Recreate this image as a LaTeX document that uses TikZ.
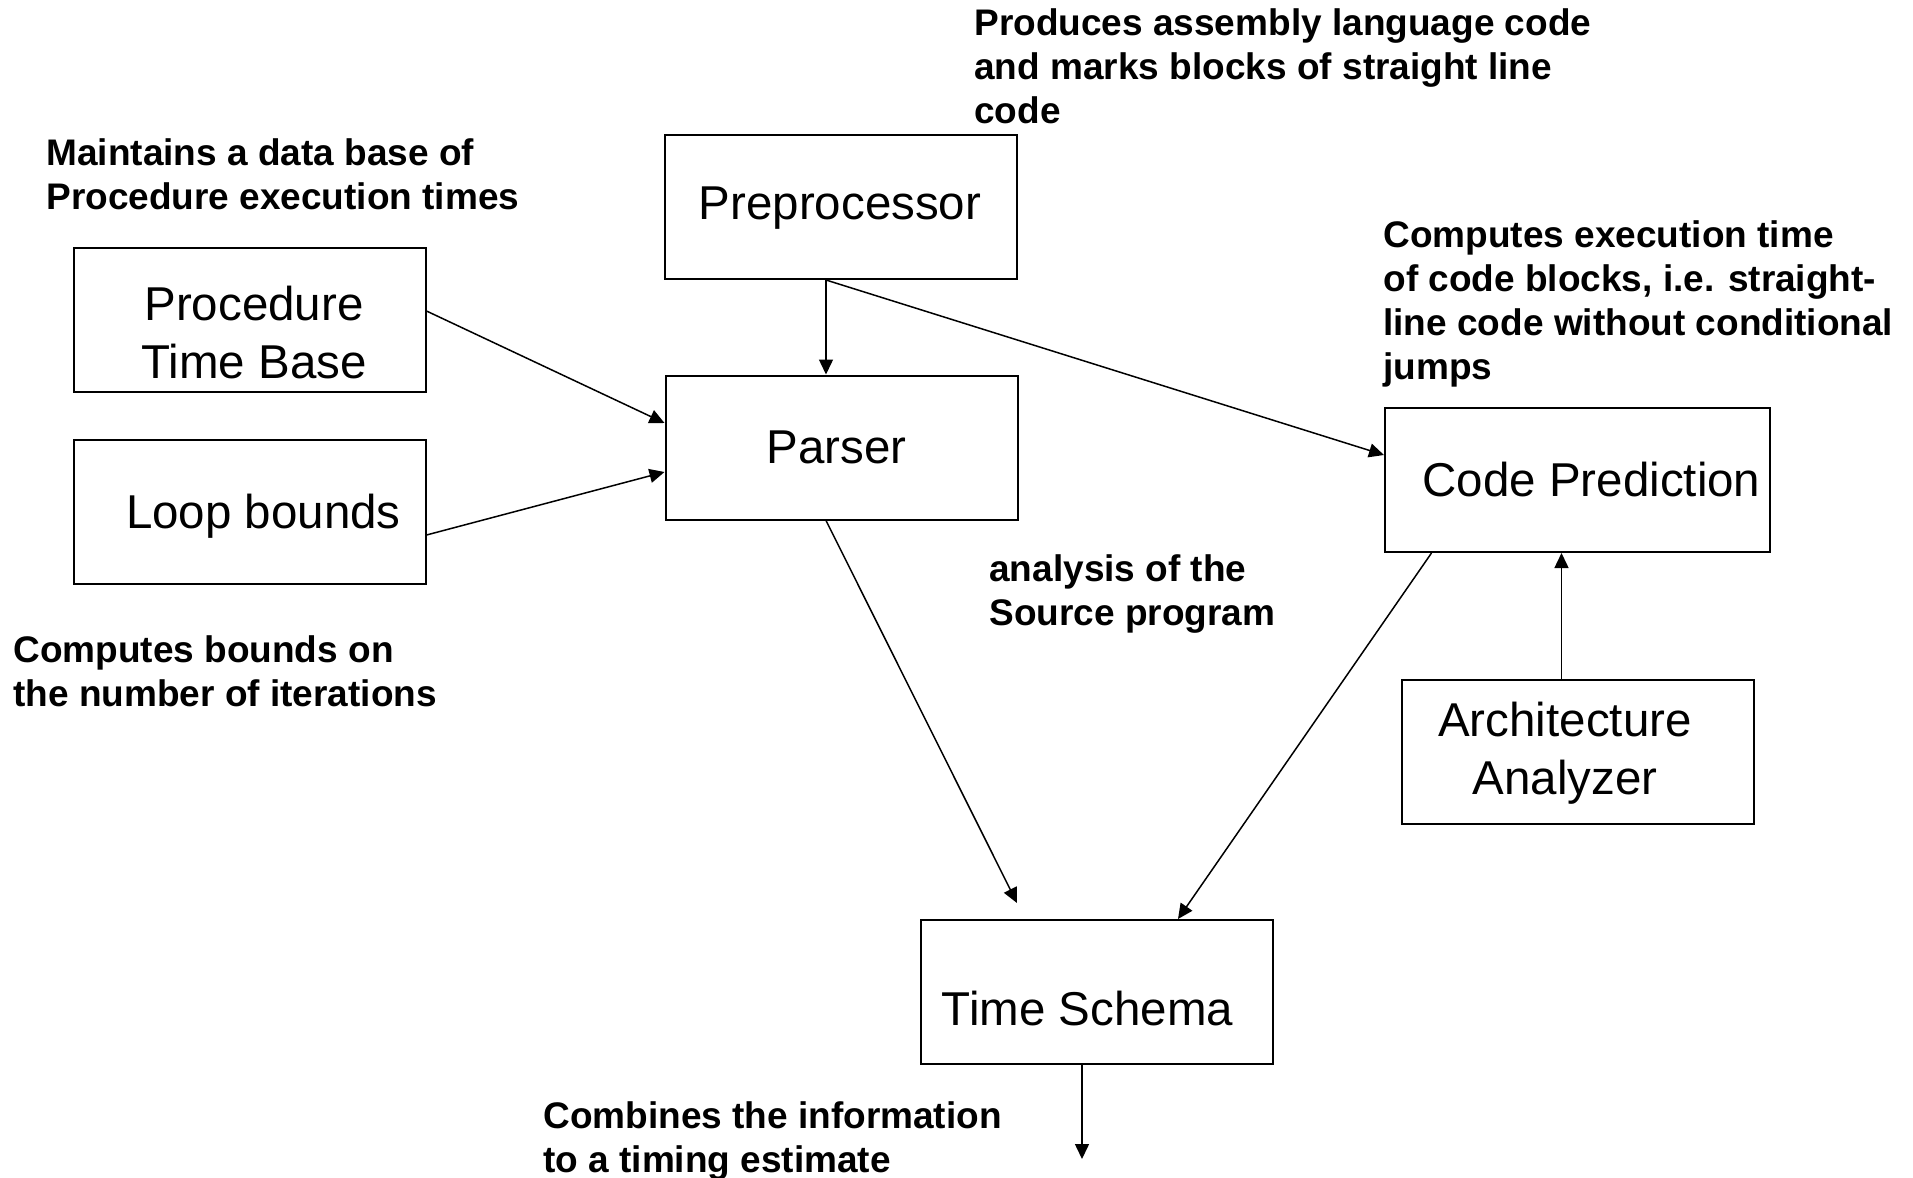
\documentclass[tikz,border=0pt]{standalone}
\usepackage{fontspec}
\setmainfont{Liberation Sans}
\usetikzlibrary{arrows.meta}

\begin{document}
\begin{tikzpicture}[
    x=0.5pt, y=-0.5pt,
    box/.style={draw, line width=1pt, inner sep=0pt, minimum width=176pt, minimum height=72pt},
    % multi-line texts are placed by the baseline of their last line
    boxtext/.style={inner sep=0pt, anchor=base, align=center,
                    font=\fontsize{23.75}{29}\selectfont},
    note/.style={inner sep=0pt, anchor=base west, align=left,
                 font=\fontsize{18.5}{22}\selectfont\bfseries},
    flow/.style={line width=0.75pt, -{Triangle[length=7.5pt, width=7pt]}}
  ]
  \useasboundingbox (0,0) rectangle (1913,1178);

  % processing blocks
  \node[box] (pre)  at (840.5, 207)   {};
  \node[box] (ptb)  at (249.5, 320)   {};
  \node[box] (loop) at (249.5, 512)   {};
  \node[box] (par)  at (841.5, 447.5) {};
  \node[box, minimum width=192.5pt] (cp) at (1577.5, 480) {};
  \node[box] (arch) at (1577.5, 751.5) {};
  \node[box] (ts)   at (1097, 992)    {};

  % block captions
  \node[boxtext] (preT)  at (840, 219)    {Preprocessor};
  \node[boxtext] (ptbT)  at (254, 378)    {Procedure\\Time Base};
  \node[boxtext] (loopT) at (263.5, 528)  {Loop bounds};
  \node[boxtext] (parT)  at (836.5, 463)  {Parser};
  \node[boxtext] (cpT)   at (1591.5, 496) {Code Prediction};
  \node[boxtext] (archT) at (1565, 794)   {Architecture\\Analyzer};
  \node[boxtext] (tsT)   at (1087.5, 1025) {Time Schema};

  % explanatory notes
  \node[note] (preN)  at (974, 123)  {Produces assembly language code\\and marks blocks of straight line\\code};
  \node[note] (ptbN)  at (46, 209)   {Maintains a data base of\\Procedure execution times};
  \node[note] (cpN)   at (1383, 379) {Computes execution time\\of code blocks, i.e. straight-\\line code without conditional\\jumps};
  \node[note] (parN)  at (989, 625)  {analysis of the\\Source program};
  \node[note] (loopN) at (13, 706)   {Computes bounds on\\the number of iterations};
  \node[note] (tsN)   at (543, 1172) {Combines the information\\to a timing estimate};

  % connector end points
  \coordinate (preOut) at ([xshift=-7.25pt]pre.south);
  \coordinate (parOut) at ([xshift=-7.75pt]par.south);
  \coordinate (tsIn)   at (1017, 903);
  \coordinate (cpOut)  at ([xshift=-73pt]cp.south);
  \coordinate (archOut) at ([xshift=-8pt]arch.north);
  \coordinate (tsOut)  at ([xshift=-7.5pt]ts.south);
  \coordinate (result) at (tsOut |- 0,1159);

  % data flow
  \draw[flow] (preOut) -- (preOut |- par.north);
  \draw[flow] (preOut) -- ([yshift=12.5pt]cp.west);
  \draw[flow] ([yshift=4.5pt]ptb.east) -- ([yshift=12.25pt]par.west);
  \draw[flow] ([yshift=-11.5pt]loop.east) -- ([yshift=-12.25pt]par.west);
  \draw[flow] (parOut) -- (tsIn);
  \draw[flow] (cpOut) -- ([xshift=40.5pt]ts.north);
  \draw[flow] (archOut) -- (archOut |- cp.south);
  \draw[flow] (tsOut) -- (result);
\end{tikzpicture}
\end{document}
